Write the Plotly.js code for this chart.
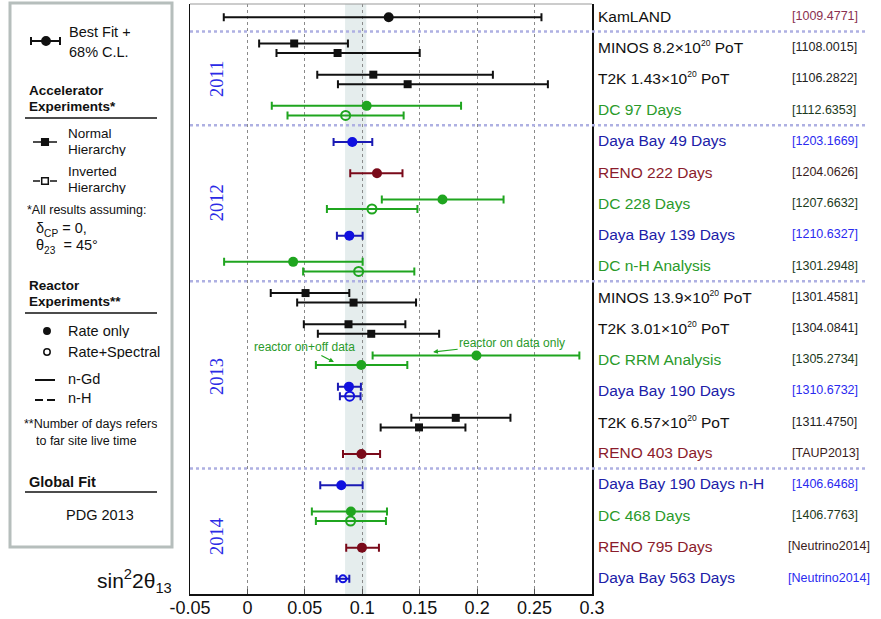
<!DOCTYPE html>
<html>
<head>
<meta charset="utf-8">
<script src="https://cdn.plot.ly/plotly-3.0.1.min.js"></script>
<style>html,body{margin:0;padding:0;background:#fff;}#chart{width:881px;height:619px;}</style>
</head>
<body>
<div id="chart"></div>
<script>
// ---------------- DATA ----------------
const SUP20 = "<sup><span style='font-size:8.5px'>20</span></sup>";
const expLabels = [
  "KamLAND",
  "MINOS 8.2×10" + SUP20 + " PoT",
  "T2K 1.43×10" + SUP20 + " PoT",
  "DC 97 Days",
  "Daya Bay 49 Days",
  "RENO 222 Days",
  "DC 228 Days",
  "Daya Bay 139 Days",
  "DC n-H Analysis",
  "MINOS 13.9×10" + SUP20 + " PoT",
  "T2K 3.01×10" + SUP20 + " PoT",
  "DC RRM Analysis",
  "Daya Bay 190 Days",
  "T2K 6.57×10" + SUP20 + " PoT",
  "RENO 403 Days",
  "Daya Bay 190 Days n-H",
  "DC 468 Days",
  "RENO 795 Days",
  "Daya Bay 563 Days"
];
const expRefs = [
  "[1009.4771]","[1108.0015]","[1106.2822]","[1112.6353]","[1203.1669]",
  "[1204.0626]","[1207.6632]","[1210.6327]","[1301.2948]","[1301.4581]",
  "[1304.0841]","[1305.2734]","[1310.6732]","[1311.4750]","[TAUP2013]",
  "[1406.6468]","[1406.7763]","[Neutrino2014]","[Neutrino2014]"
];
const expGroup = ["kam","acc","acc","dc","db","reno","dc","db","dc","acc","acc","dc","db","acc","reno","db","dc","reno","db"];

const years = ["2011","2012","2013","2014"];
const yearRowCenter = [2.02, 6.0, 11.57, 16.7];
const separatorRows = [0.5, 3.5, 8.5, 14.5];

// measurement points: row index, sub-slot, best fit, 68% CL low / high, kind
const ptRow  = [0, 1,1, 2,2, 3,3, 4, 5, 6,6, 7, 8,8, 9,9, 10,10, 11,11, 12,12, 13,13, 14, 15, 16,16, 17, 18];
const ptSlot = ["c","u","l","u","l","u","l","c","c","u","l","c","u","l","u","l","u","l","u","l","u","l","u","l","c","c","u","l","c","c"];
const ptBest = [0.123, 0.0407,0.0785, 0.1096,0.1395, 0.1038,0.0855, 0.0913, 0.1128, 0.1698,0.1084, 0.0887, 0.0398,0.0968,
                0.0506,0.0924, 0.0880,0.1078, 0.1994,0.0991, 0.0884,0.0890, 0.1814,0.1494, 0.0993, 0.0817, 0.0901,0.0898, 0.0997, 0.0831];
const ptLow  = [-0.0206, 0.0102,0.0253, 0.0608,0.0788, 0.0212,0.0349, 0.0750, 0.0895, 0.1170,0.0692, 0.0779, -0.0203,0.0485,
                0.0203,0.0433, 0.0491,0.0613, 0.1090,0.0596, 0.0788,0.0805, 0.1427,0.1160, 0.0832, 0.0634, 0.0561,0.0596, 0.0860, 0.0776];
const ptHigh = [0.256, 0.0875,0.150, 0.2137,0.2616, 0.186,0.136, 0.1087, 0.135, 0.223,0.148, 0.1003, 0.1003,0.1453,
                0.0887,0.1468, 0.1375,0.1669, 0.289,0.1392, 0.0988,0.0985, 0.229,0.1898, 0.1155, 0.1003, 0.1215,0.1206, 0.1145, 0.0887];
const ptKind = ["kam","acc","acc","acc","acc","dcR","dcS","dbR","reno","dcR","dcS","dbR","dcR","dcS",
                "acc","acc","acc","acc","dcR","dcR","dbR","dbS","acc","acc","reno","dbR","dcR","dcS","reno","dbS2"];

const pdgBand = [0.085, 0.1035];   // PDG 2013 global fit band
const xTickVals = [-0.05, 0, 0.05, 0.1, 0.15, 0.2, 0.25, 0.3];
const xTickText = ["-0.05","0","0.05","0.1","0.15","0.2","0.25","0.3"];

// ---------------- STYLE ----------------
const FONT = "Liberation Sans, Arial, sans-serif";
const slotOffset = {c: 0.04, u: -0.12, l: 0.186};
const GREEN = "#1fa51f", BLUE = "#1010e0", BLUE_BAR = "#1a1ab4", RED = "#7a0a1a", BLACK = "#111";
const kindStyle = {
  kam:  {color: BLACK, bar: BLACK, symbol: "circle", size: 10},
  acc:  {color: BLACK, bar: BLACK, symbol: "square", size: 8},
  dcR:  {color: GREEN, bar: GREEN, symbol: "circle", size: 10},
  dcS:  {color: GREEN, bar: GREEN, symbol: "circle-open", size: 9},
  dbR:  {color: BLUE,  bar: BLUE_BAR, symbol: "circle", size: 10},
  dbS:  {color: BLUE,  bar: BLUE_BAR, symbol: "circle-open", size: 9},
  dbS2: {color: BLUE,  bar: BLUE_BAR, symbol: "circle-open", size: 7},
  reno: {color: RED,   bar: RED, symbol: "circle", size: 10}
};
const labelColor = {kam: "#111", acc: "#111", dc: "#2a9a2a", db: "#2020a8", reno: "#8b1c2c"};
const refColor   = {kam: "#8a3050", acc: "#222", dc: "#1c3a1c", db: "#2a2af0", reno: "#3a1c1c"};

// ---------------- BUILD ----------------
const traces = ptBest.map((v, i) => {
  const st = kindStyle[ptKind[i]];
  const open = st.symbol.indexOf("open") >= 0;
  return {
    type: "scatter", mode: "markers",
    x: [v], y: [ptRow[i] + slotOffset[ptSlot[i]]],
    marker: {symbol: st.symbol, size: st.size, color: st.color,
             line: {color: st.color, width: open ? 2 : 0}},
    error_x: {type: "data", symmetric: false,
              array: [ptHigh[i] - v], arrayminus: [v - ptLow[i]],
              color: st.bar, thickness: 2, width: 4},
    showlegend: false, hoverinfo: "x", cliponaxis: false
  };
});

// pixel -> paper helpers for decorations
const L = 190, T = 4, W = 402, H = 590;
const X = px => (px - L) / W;
const Y = py => (T + H - py) / H;

const shapes = [];
const annotations = [];

// PDG band
shapes.push({type: "rect", xref: "x", yref: "paper", x0: pdgBand[0], x1: pdgBand[1], y0: 0, y1: 1,
             fillcolor: "#e5eded", line: {width: 0}, layer: "below"});
// separators
separatorRows.forEach(r => shapes.push({type: "line", xref: "paper", yref: "y", x0: 0, x1: X(866), y0: r, y1: r,
  line: {color: "#aeb0e2", width: 2.5, dash: "dot"}, layer: "above"}));
// top border (light)
shapes.push({type: "line", xref: "paper", yref: "paper", x0: 0, x1: 1, y0: 1, y1: 1, line: {color: "#999", width: 1}});

// experiment labels and refs
expLabels.forEach((t, i) => {
  const g = expGroup[i];
  annotations.push({xref: "paper", yref: "y", x: X(596), y: i, text: t, showarrow: false,
    xanchor: "left", yanchor: "middle", font: {family: FONT, size: 15.5, color: labelColor[g]}});
  annotations.push({xref: "paper", yref: "y", x: X(expRefs[i].indexOf("Neutrino") >= 0 ? 786 : 790), y: i, text: expRefs[i], showarrow: false,
    xanchor: "left", yanchor: "middle", font: {family: FONT, size: 12.5, color: refColor[g]}});
});
// year labels
years.forEach((t, i) => annotations.push({xref: "paper", yref: "y", x: X(217), y: yearRowCenter[i], text: t,
  textangle: -90, showarrow: false, xanchor: "center", yanchor: "middle",
  font: {family: "Liberation Serif, Times New Roman, serif", size: 18.5, color: "#2a2ae6"}}));

// DC RRM annotations
annotations.push({xref: "x", yref: "y", x: 0.0753, y: 11.09, ax: -29, ay: -15, axref: "pixel", ayref: "pixel",
  text: "reactor on+off data", showarrow: true, arrowhead: 2, arrowsize: 0.8, arrowwidth: 1.2, arrowcolor: GREEN,
  font: {family: FONT, size: 12, color: "#2a9a2a"}});
annotations.push({xref: "x", yref: "y", x: 0.1617, y: 10.77, ax: 79, ay: -9, axref: "pixel", ayref: "pixel",
  text: "reactor on data only", showarrow: true, arrowhead: 2, arrowsize: 0.8, arrowwidth: 1.2, arrowcolor: GREEN,
  font: {family: FONT, size: 12, color: "#2a9a2a"}});

// ---------- legend box (drawn) ----------
const txt = (x, y, t, size, opts) => annotations.push(Object.assign({xref: "paper", yref: "paper", x: X(x), y: Y(y),
  text: t, showarrow: false, xanchor: "left", yanchor: "middle", height: 14, borderpad: 0, valign: "middle",
  font: {family: FONT, size: size, color: "#111"}}, opts || {}));
const line = (x0, y0, x1, y1, w, dash) => shapes.push({type: "line", xref: "paper", yref: "paper",
  x0: X(x0), x1: X(x1), y0: Y(y0), y1: Y(y1), line: {color: "#111", width: w || 1.5, dash: dash || "solid"}});
const circ = (cx, cy, r, filled) => shapes.push({type: "circle", xref: "paper", yref: "paper",
  x0: X(cx - r), x1: X(cx + r), y0: Y(cy + r), y1: Y(cy - r),
  fillcolor: filled ? "#111" : "#fff", line: {color: "#111", width: 1.5}});
const sq = (cx, cy, r, filled) => shapes.push({type: "rect", xref: "paper", yref: "paper",
  x0: X(cx - r), x1: X(cx + r), y0: Y(cy + r), y1: Y(cy - r),
  fillcolor: filled ? "#111" : "#fff", line: {color: "#111", width: 1.5}});

shapes.push({type: "rect", xref: "paper", yref: "paper", x0: X(10), x1: X(172), y0: Y(547), y1: Y(3),
  line: {color: "#b6bebc", width: 3}, fillcolor: "rgba(0,0,0,0)"});
// best fit symbol
line(31, 41, 60, 41, 2); line(31, 37, 31, 45, 2); line(60, 37, 60, 45, 2); circ(46, 41, 4.2, true);
txt(68, 32, "Best Fit +", 14.5); txt(68, 52, "68% C.L.", 14.5);
txt(28, 90, "<b>Accelerator</b>", 13.5); txt(28, 106, "<b>Experiments*</b>", 13.5);
line(25, 118, 157, 118, 1.5);
line(33, 142, 57, 142, 1.5); sq(45, 142, 3.3, true);
txt(67, 133, "Normal", 13.5); txt(67, 149, "Hierarchy", 13.5);
line(33, 181, 40, 181, 1.5); line(50, 181, 57, 181, 1.5); sq(45, 181, 3.3, false);
txt(67, 171, "Inverted", 13.5); txt(67, 187, "Hierarchy", 13.5);
txt(26, 210, "*All results assuming:", 12.5);
txt(35, 229, "δ<sub>CP</sub> = 0,", 14.5, {height: 17});
txt(35, 247, "θ<sub>23</sub>  = 45°", 14.5, {height: 17});
txt(28, 285, "<b>Reactor</b>", 13.5); txt(28, 301, "<b>Experiments**</b>", 13.5);
line(25, 313, 157, 313, 1.5);
circ(47, 331, 3.2, true); txt(67, 331, "Rate only", 14.5);
circ(47, 352, 3.2, false); txt(67, 352, "Rate+Spectral", 14.5);
line(35, 380, 55, 380, 2); txt(67, 379, "n-Gd", 14.5);
line(35, 400, 43, 400, 2); line(47, 400, 55, 400, 2); txt(67, 398, "n-H", 14.5);
txt(23, 424, "**Number of days refers", 12.5);
txt(35, 441, "to far site live time", 12.5);
txt(28, 482, "<b>Global Fit</b>", 14.5);
line(25, 492, 157, 492, 1.5);
txt(100, 515, "PDG 2013", 14.5, {xanchor: "center"});
// axis title (drawn at left, like original)
txt(173, 581, "sin<sup>2</sup>2θ<sub>13</sub>", 21, {xanchor: "right", height: 28});

const layout = {
  width: 881, height: 619,
  margin: {l: L, r: 881 - L - W, t: T, b: 619 - T - H, pad: 0},
  paper_bgcolor: "#fff", plot_bgcolor: "rgba(0,0,0,0)",
  showlegend: false,
  font: {family: FONT, color: "#111"},
  xaxis: {range: [-0.05, 0.3], tickvals: xTickVals, ticktext: xTickText,
          tickfont: {family: FONT, size: 18, color: "#111"}, ticklabelstandoff: -3,
          ticks: "inside", ticklen: 5, tickcolor: "#555",
          showgrid: true, gridcolor: "#8a8a8a", griddash: "dot", gridwidth: 1,
          zeroline: false, showline: true, linecolor: "#111", linewidth: 1.5, fixedrange: true},
  yaxis: {range: [18.526, -0.385], showticklabels: false, ticks: "", showgrid: false, zeroline: false,
          showline: true, mirror: true, linecolor: "#111", linewidth: 1.5, fixedrange: true},
  shapes: shapes,
  annotations: annotations
};

Plotly.newPlot("chart", traces, layout, {displayModeBar: false, staticPlot: true});
</script>
</body>
</html>
